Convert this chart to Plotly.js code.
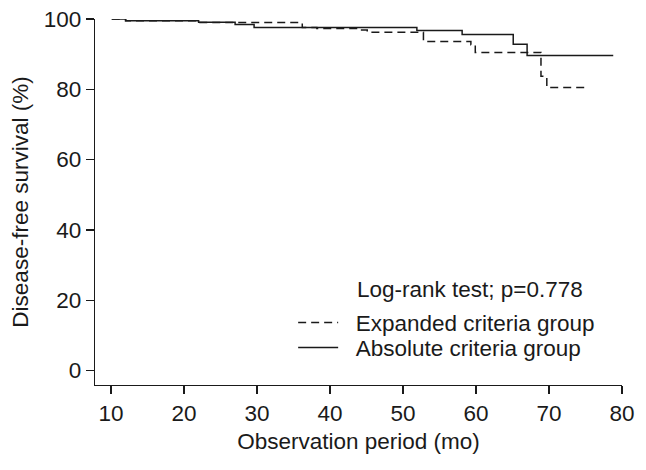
<!DOCTYPE html>
<html>
<head>
<meta charset="utf-8">
<script src="https://cdn.plot.ly/plotly-3.0.1.min.js"></script>
<style>html,body{margin:0;padding:0;background:#fff;}#chart{width:646px;height:470px;}</style>
</head>
<body>
<div id="chart"></div>
<script>
// Absolute criteria group (solid)
const absTime = [10.1, 12.0, 22.0, 27.0, 29.6, 51.9, 58.1, 65.1, 67.0, 78.8];
const absSurv = [100, 99.5, 99.1, 98.4, 97.6, 96.7, 95.6, 92.8, 89.6, 89.6];
// Expanded criteria group (dashed)
const expTime = [10.1, 12.0, 22.0, 36.2, 38.2, 44.1, 45.1, 52.8, 59.3, 59.9, 68.9, 69.7, 75.0];
const expSurv = [100, 99.5, 99.0, 97.6, 97.3, 96.9, 96.2, 93.6, 92.7, 90.5, 83.7, 80.5, 80.5];

const xTicks = [10, 20, 30, 40, 50, 60, 70, 80];
const yTicks = [0, 20, 40, 60, 80, 100];
const seriesNames = ['Expanded criteria group', 'Absolute criteria group'];
const testText = 'Log-rank test; p=0.778';

const FONT = 'Liberation Sans, Arial, sans-serif';
const INK = '#1a1a1a';
const FS = 22.5;
const pad = '\u00a0\u00a0';

const traces = [
  {x: expTime, y: expSurv, name: pad + seriesNames[0], legend: 'legend', mode: 'lines',
   line: {shape: 'hv', color: INK, width: 1.5, dash: '8px,5px'}},
  {x: absTime, y: absSurv, name: pad + seriesNames[1], legend: 'legend2', mode: 'lines',
   line: {shape: 'hv', color: INK, width: 1.5}}
];

const legendBase = {xanchor: 'left', yanchor: 'middle', bgcolor: 'rgba(0,0,0,0)', borderwidth: 0,
                    font: {family: FONT, size: FS, color: INK}, itemwidth: 40};

const layout = {
  width: 646, height: 470,
  margin: {l: 95, r: 24.3, t: 19.3, b: 85},
  paper_bgcolor: '#fff', plot_bgcolor: '#fff',
  font: {family: FONT, size: FS, color: INK},
  showlegend: true,
  legend: Object.assign({x: 0.376, y: 0.1695}, legendBase),
  legend2: Object.assign({x: 0.376, y: 0.1012}, legendBase),
  xaxis: {range: [7.807, 80], tickvals: xTicks, ticktext: xTicks.map(String), showgrid: false, zeroline: false,
          showline: true, linecolor: INK, linewidth: 1.3, ticks: 'outside', ticklen: 8, tickcolor: INK, tickwidth: 1.3,
          tickfont: {family: FONT, size: FS, color: INK},
          title: {text: 'Observation period (mo)', font: {family: FONT, size: FS, color: INK}, standoff: 8}},
  yaxis: {range: [-4.13, 100], tickvals: yTicks, ticktext: yTicks.map(String), showgrid: false, zeroline: false,
          showline: true, linecolor: INK, linewidth: 1.3, ticks: 'outside', ticklen: 8, tickcolor: INK, tickwidth: 1.3,
          tickfont: {family: FONT, size: FS, color: INK},
          title: {text: 'Disease-free survival (%)', font: {family: FONT, size: FS, color: INK}, standoff: 8}},
  annotations: [
    {x: 43.44, y: 23.0, xref: 'x', yref: 'y', text: testText, showarrow: false, xanchor: 'left', yanchor: 'middle',
     font: {family: FONT, size: FS, color: INK}}
  ]
};

Plotly.newPlot('chart', traces, layout, {displayModeBar: false, staticPlot: true});
</script>
</body>
</html>
